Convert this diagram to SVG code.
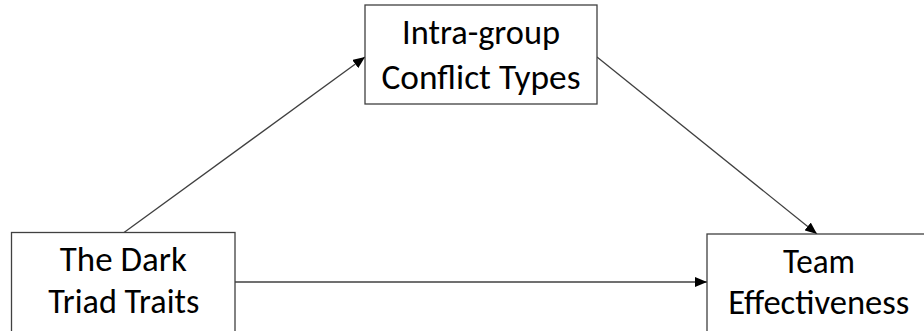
<svg xmlns="http://www.w3.org/2000/svg" width="924" height="331" viewBox="0 0 924 331">
  <style>
    .box { fill: #ffffff; stroke: #404040; stroke-width: 1.3; }
    .lbl { font-family: Carlito, Lato, "Liberation Sans", sans-serif; font-size: 34px; fill: #000000; text-anchor: middle; }
    .edge { stroke: #404040; stroke-width: 1.3; fill: none; marker-end: url(#arr); }
  </style>
  <defs>
    <marker id="arr" markerUnits="userSpaceOnUse" markerWidth="13" markerHeight="10" refX="12" refY="5" orient="auto">
      <path d="M0,0 L12,5 L0,10 z" fill="#000000"/>
    </marker>
  </defs>
  <rect width="924" height="331" fill="#ffffff"/>
  <g id="connectors">
    <line class="edge" x1="124" y1="232.5" x2="365" y2="57"/>
    <line class="edge" x1="597" y1="57" x2="817" y2="234"/>
    <line class="edge" x1="235" y1="282" x2="707" y2="282"/>
  </g>
  <g id="node-conflict">
    <rect class="box" x="365" y="5" width="232" height="99"/>
    <text class="lbl" x="481" y="43.5" textLength="158" lengthAdjust="spacingAndGlyphs">Intra-group</text>
    <text class="lbl" x="481" y="88.5" textLength="199" lengthAdjust="spacingAndGlyphs">Conflict Types</text>
  </g>
  <g id="node-dark-triad">
    <rect class="box" x="11.5" y="232.5" width="223.5" height="110"/>
    <text class="lbl" x="123.3" y="271" textLength="127" lengthAdjust="spacingAndGlyphs">The Dark</text>
    <text class="lbl" x="123.8" y="313" textLength="151" lengthAdjust="spacingAndGlyphs">Triad Traits</text>
  </g>
  <g id="node-team">
    <rect class="box" x="707" y="234" width="240" height="110"/>
    <text class="lbl" x="819" y="272.5" textLength="72" lengthAdjust="spacingAndGlyphs">Team</text>
    <text class="lbl" x="818.8" y="314" textLength="181" lengthAdjust="spacingAndGlyphs">Effectiveness</text>
  </g>
</svg>
